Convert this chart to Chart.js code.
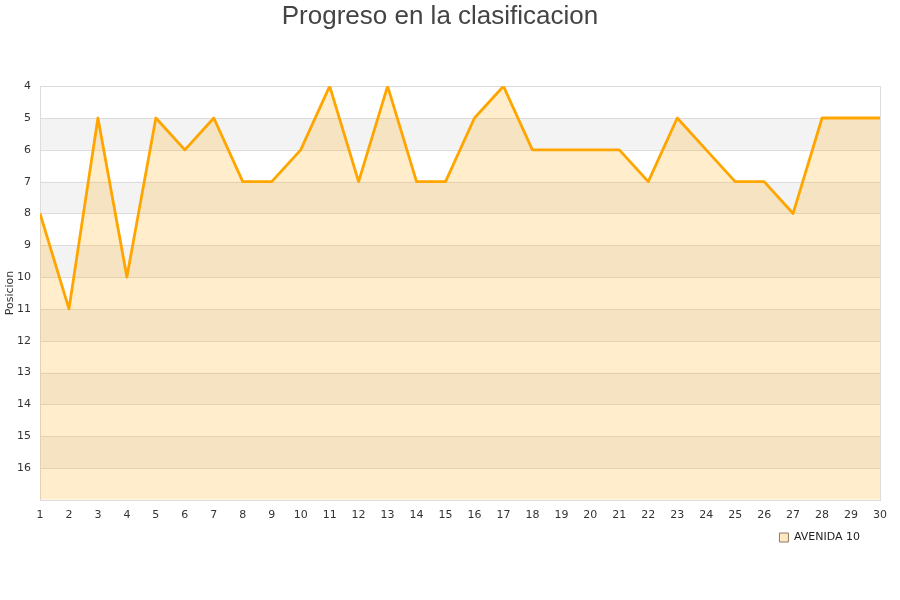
<!DOCTYPE html>
<html>
<head>
<meta charset="utf-8">
<script src="https://cdn.jsdelivr.net/npm/chart.js@4/dist/chart.umd.min.js"></script>
<style>
  body { margin: 0; background: #fff; }
</style>
</head>
<body>
<canvas id="chart" width="900" height="600"></canvas>
<script>
// jornadas y posiciones
const jornadas = [1, 2, 3, 4, 5, 6, 7, 8, 9, 10, 11, 12, 13, 14, 15, 16, 17, 18, 19, 20, 21, 22, 23, 24, 25, 26, 27, 28, 29, 30];
const posiciones = [8, 11, 5, 10, 5, 6, 5, 7, 7, 6, 4, 7, 4, 7, 7, 5, 4, 6, 6, 6, 6, 7, 5, 6, 7, 7, 8, 5, 5, 5];
const equipo = 'AVENIDA 10';
const posMin = 4;
const posMax = 17;

// franjas alternas y borde del area
const bandas = {
  id: 'bandas',
  afterLayout(chart) {
    // la leyenda queda algo separada del borde derecho
    chart.legend.right -= 14;
  },
  beforeDatasetsDraw(chart) {
    const ctx = chart.ctx;
    const area = chart.chartArea;
    const y = chart.scales.y;
    ctx.save();
    ctx.fillStyle = '#f3f3f3';
    for (let v = posMin + 1; v < posMax; v += 2) {
      const y1 = y.getPixelForValue(v);
      const y2 = y.getPixelForValue(v + 1);
      ctx.fillRect(area.left, y1, area.right - area.left, y2 - y1);
    }
    ctx.strokeStyle = '#dcdcdc';
    ctx.lineWidth = 1;
    for (let v = posMin + 1; v < posMax; v++) {
      const py = Math.round(y.getPixelForValue(v)) + 0.5;
      ctx.beginPath();
      ctx.moveTo(area.left, py);
      ctx.lineTo(area.right, py);
      ctx.stroke();
    }
    ctx.strokeRect(Math.round(area.left) + 0.5, Math.round(area.top) + 0.5,
      Math.round(area.right - area.left), Math.round(area.bottom - area.top));
    ctx.restore();
  }
};

new Chart(document.getElementById('chart'), {
  type: 'line',
  data: {
    labels: jornadas,
    datasets: [{
      label: equipo,
      data: jornadas.map((j, i) => ({ x: j, y: posiciones[i] })),
      borderColor: '#ffa500',
      backgroundColor: 'rgba(255,165,0,0.2)',
      borderWidth: 2.8,
      borderJoinStyle: 'round',
      pointRadius: 0,
      tension: 0,
      fill: 'start'
    }]
  },
  options: {
    responsive: false,
    animation: false,
    layout: { padding: { left: 0, right: 20, top: 0, bottom: 47 } },
    plugins: {
      title: {
        display: true,
        text: 'Progreso en la clasificacion',
        color: '#444',
        font: { family: 'Arial, Liberation Sans, sans-serif', size: 26, weight: 'normal' },
        padding: { top: 1, bottom: 54 }
      },
      legend: {
        position: 'bottom',
        align: 'end',
        labels: {
          color: '#222',
          font: { family: 'DejaVu Sans, sans-serif', size: 11 },
          boxWidth: 9,
          boxHeight: 9,
          padding: 6,
          generateLabels: (chart) => [{
            text: equipo,
            fillStyle: '#fde8c2',
            strokeStyle: '#8a7a66',
            lineWidth: 1,
            datasetIndex: 0,
            fontColor: '#222'
          }]
        }
      },
      tooltip: { enabled: false }
    },
    scales: {
      x: {
        type: 'linear',
        min: 1,
        max: 30,
        afterFit: (s) => { s.height += 3; },
        ticks: {
          stepSize: 1,
          color: '#333',
          padding: 1,
          font: { family: 'DejaVu Sans, sans-serif', size: 11 },
          maxRotation: 0,
          autoSkip: false
        },
        grid: { display: false },
        border: { display: false }
      },
      y: {
        reverse: true,
        min: posMin,
        max: posMax,
        afterFit: (s) => { s.width = 40; },
        title: {
          display: true,
          text: 'Posicion',
          color: '#333',
          font: { family: 'DejaVu Sans, sans-serif', size: 11 },
          padding: { top: 4, bottom: 0 }
        },
        ticks: {
          stepSize: 1,
          color: '#333',
          padding: 1,
          font: { family: 'DejaVu Sans, sans-serif', size: 11 },
          callback: (v) => (v === posMax ? '' : v)
        },
        grid: { display: false },
        border: { display: false }
      }
    }
  },
  plugins: [bandas]
});
</script>
</body>
</html>
